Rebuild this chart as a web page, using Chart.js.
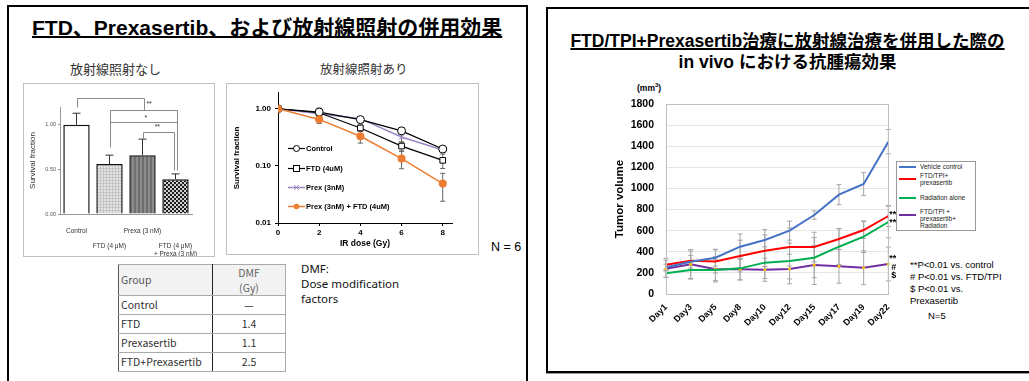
<!DOCTYPE html>
<html>
<head>
<meta charset="utf-8">
<script src="https://cdn.jsdelivr.net/npm/chart.js@4.4.1/dist/chart.umd.min.js"></script>
<style>
  body { margin: 0; width: 1029px; height: 381px; overflow: hidden; background: #fff; position: relative;
         font-family: "Liberation Sans", Arial, "Noto Sans CJK JP", sans-serif; color: #000; }
  .abs { position: absolute; }
  .panel { position: absolute; box-sizing: border-box; border: 2px solid #000; }
  .jp { font-family: "Noto Sans CJK JP", sans-serif; }
  canvas { position: absolute; }
  .box { position: absolute; box-sizing: border-box; border: 1px solid #c0c0c0; }
  .lg { position: absolute; font-size: 7.5px; font-weight: bold; display: flex; align-items: center; white-space: nowrap; }
  .lg svg { margin-right: 1px; }
  table.dmf { position: absolute; border-collapse: collapse; font-family: "Noto Sans CJK JP", sans-serif;
              font-size: 10.5px; color: #333; font-weight: 400; }
  table.dmf td { border: 1px solid #aaa; padding: 0 2px; height: 18px; line-height: 14px; }
  table.dmf td:first-child { border-right: 1px solid #222; border-left: 1px solid #555; }
  table.dmf td:last-child { text-align: center; }
  .tl { position: absolute; font-size: 6.5px; line-height: 7.2px; color: #222; }
  .tl i { position: absolute; left: -21px; width: 17px; height: 2px; }
</style>
</head>
<body>

<div class="panel" style="left:7px;top:5px;width:521px;height:400px"></div>
<div class="panel" style="left:546px;top:7px;width:500px;height:366px;box-shadow:0 1px 0 #999"></div>

<div class="abs" style="left:32px;top:11px;font-size:21px;font-weight:bold;text-decoration:underline;text-decoration-thickness:1.5px;white-space:nowrap">FTD、Prexasertib、および放射線照射の併用効果</div>

<div class="abs jp" style="left:70px;top:59px;font-size:13px;color:#333">放射線照射なし</div>
<div class="abs jp" style="left:320px;top:59px;font-size:12.5px;color:#333">放射線照射あり</div>

<div class="box" style="left:23px;top:83px;width:192px;height:174px"></div>
<canvas id="barChart" width="186" height="172" style="left:28px;top:84px"></canvas>

<div class="box" style="left:226px;top:83px;width:253px;height:172px"></div>
<canvas id="logChart" width="246" height="165" style="left:232px;top:84px"></canvas>

<div class="abs" style="left:491px;top:240px;font-size:12.5px">N = 6</div>

<table class="dmf" style="left:118px;top:264px;width:168px">
  <tr style="background:#f2f2f2"><td style="width:89px;height:30px;color:#555">Group</td><td style="line-height:15px;color:#666">DMF<br>(Gy)</td></tr>
  <tr><td>Control</td><td>—</td></tr>
  <tr><td>FTD</td><td>1.4</td></tr>
  <tr><td>Prexasertib</td><td>1.1</td></tr>
  <tr><td>FTD+Prexasertib</td><td>2.5</td></tr>
</table>

<div class="abs" style="left:301px;top:261px;font-family:'Noto Sans',sans-serif;font-size:11.5px;line-height:15px;color:#111">DMF:<br>Dose modification<br>factors</div>

<div class="abs" style="left:560px;top:31px;width:455px;text-align:center;font-size:17.5px;font-weight:bold;line-height:21px;white-space:nowrap">
  <span style="text-decoration:underline;text-decoration-thickness:1.5px">FTD/TPI+Prexasertib治療に放射線治療を併用した際の</span><br>in vivo における抗腫瘍効果
</div>

<div class="abs" style="left:637px;top:82px;font-size:8.5px;font-weight:bold">(mm<sup style="font-size:6px">3</sup>)</div>
<canvas id="tumorChart" width="283" height="265" style="left:613px;top:95px"></canvas>

<div class="box" style="left:896px;top:161px;width:80px;height:70px;border-color:#999"></div>
<div class="tl" style="left:920px;top:163px"><i style="background:#4472c4;top:3px"></i>Vehicle control</div>
<div class="tl" style="left:920px;top:172px"><i style="background:#ff0000;top:6px"></i>FTD/TPI+<br>prexasertib</div>
<div class="tl" style="left:920px;top:194px"><i style="background:#00b050;top:3px"></i>Radiation alone</div>
<div class="tl" style="left:920px;top:208px"><i style="background:#7030a0;top:6px"></i>FTD/TPI +<br>prexasertib+<br>Radiation</div>

<div class="abs" style="left:910px;top:259px;font-size:9.5px;line-height:12px;white-space:nowrap">**P&lt;0.01 vs. control<br># P&lt;0.01 vs. FTD/TPI<br>$ P&lt;0.01 vs.<br>Prexasertib</div>
<div class="abs" style="left:928px;top:310px;font-size:9.5px">N=5</div>

<div class="lg" style="left:288px;top:144px"><svg width="17" height="9"><line x1="0" y1="4.5" x2="17" y2="4.5" stroke="#000" stroke-width="1.2"/><circle cx="8.5" cy="4.5" r="3" fill="#fff" stroke="#000"/></svg>Control</div>
<div class="lg" style="left:288px;top:164px"><svg width="17" height="9"><line x1="0" y1="4.5" x2="17" y2="4.5" stroke="#000" stroke-width="1.2"/><rect x="5.5" y="1.5" width="6" height="6" fill="#fff" stroke="#000"/></svg>FTD (4uM)</div>
<div class="lg" style="left:288px;top:183px"><svg width="17" height="9"><line x1="0" y1="4.5" x2="17" y2="4.5" stroke="#9a86c6" stroke-width="1.5"/><path d="M6 2 L11 7 M11 2 L6 7" stroke="#9a86c6"/></svg>Prex (3nM)</div>
<div class="lg" style="left:288px;top:202px"><svg width="17" height="9"><line x1="0" y1="4.5" x2="17" y2="4.5" stroke="#ed7d31" stroke-width="1.5"/><circle cx="8.5" cy="4.5" r="2.8" fill="#ed7d31"/></svg>Prex (3nM) + FTD (4uM)</div>

<script>
// ---- 放射線照射なし ----
const barLabels = [['Control'], ['', '', 'FTD (4 μM)'], ['Prexa (3 nM)'], ['', '', 'FTD (4 μM)', '+ Prexa (3 nM)']];
const barValues = [1.00, 0.56, 0.66, 0.39];
const barErrors = [0.13, 0.10, 0.18, 0.06];
const barTicks = [0, 0.5, 1.0];
// significance brackets, in [category index, survival fraction]
const sigPaths = [
  [[0, 1.20], [0, 1.30], [2.05, 1.30], [2.05, 1.17]],
  [[1, 0.75], [1, 1.17], [3.05, 1.17], [3.05, 0.49]],
  [[1, 1.03], [3.05, 1.03]],
  [[2, 0.84], [2, 0.92], [2.95, 0.92], [2.95, 0.49]],
];
const sigMarks = [['**', 2.2, 1.235], ['*', 2.1, 1.08], ['**', 2.45, 0.975]];

// ---- 放射線照射あり ----
const doses = [0, 2, 4, 6, 8];
const ctrlSF = [1.00, 0.875, 0.645, 0.41, 0.197];
const ftdSF = [1.00, 0.85, 0.46, 0.222, 0.125];
const prexSF = [1.00, 0.82, 0.67, 0.32, 0.19];
const comboSF = [1.00, 0.65, 0.33, 0.134, 0.049];
const ctrlErr = [0, 0.15, 0.08, 0.04, 0.02];
const ftdErr = [0, 0.06, 0.06, 0.04, 0.035];
const prexErr = [0, 0.05, 0.05, 0.06, 0.02];
const comboErr = [0, 0.1, 0.08, 0.045, 0.025];
const logTicks = [0.01, 0.1, 1];

// ---- in vivo ----
const days = ['Day1', 'Day3', 'Day5', 'Day8', 'Day10', 'Day12', 'Day15', 'Day17', 'Day19', 'Day22'];
const vehicle = [253, 306, 344, 448, 512, 600, 748, 941, 1042, 1443];
const ftdPrex = [278, 316, 309, 360, 410, 445, 445, 521, 606, 739];
const radiation = [196, 227, 227, 243, 297, 313, 344, 448, 543, 682];
const triple = [240, 281, 234, 234, 230, 237, 275, 262, 249, 284];
const vehicleErr = [30, 60, 80, 120, 100, 90, 40, 95, 110, 115];
const ftdPrexErr = [60, 90, 110, 150, 150, 180, 140, 100, 80, 100];
const radiationErr = [40, 80, 100, 110, 150, 170, 190, 170, 150, 150];
const tripleErr = [80, 140, 120, 100, 110, 140, 185, 160, 160, 160];

Chart.defaults.animation = false;
Chart.defaults.font.family = '"Liberation Sans", Arial, sans-serif';
Chart.defaults.plugins.legend.display = false;
Chart.defaults.plugins.tooltip.enabled = false;

function pattern(size, draw) {
  const c = document.createElement('canvas');
  c.width = c.height = size;
  const g = c.getContext('2d');
  draw(g, size);
  return g.createPattern(c, 'repeat');
}
const ftdFill = pattern(3, (g, s) => { g.fillStyle = '#e4e4e4'; g.fillRect(0, 0, s, s); g.fillStyle = '#c4c4c4'; g.fillRect(0, 0, s, 1); g.fillRect(0, 0, 1, s); });
const prexFill = pattern(4, (g, s) => { g.fillStyle = '#6e6e6e'; g.fillRect(0, 0, s, s); g.fillStyle = '#8c8c8c'; g.fillRect(0, 0, 2, s); });
const comboFill = pattern(4, (g, s) => { g.fillStyle = '#cfcfcf'; g.fillRect(0, 0, s, s); g.fillStyle = '#1e1e1e'; g.fillRect(0, 0, 2, 2); g.fillRect(2, 2, 2, 2); });

const errorBars = {
  id: 'errorBars',
  beforeDatasetsDraw(chart, args, opts) {
    const ctx = chart.ctx, y = chart.scales.y;
    ctx.save();
    ctx.strokeStyle = opts.color;
    ctx.lineWidth = opts.width || 1;
    chart.data.datasets.forEach((ds, i) => {
      if (!ds.errors) return;
      chart.getDatasetMeta(i).data.forEach((el, j) => {
        const e = ds.errors[j];
        if (!e) return;
        const raw = ds.data[j];
        const v = typeof raw === 'object' ? raw.y : raw;
        const hi = y.getPixelForValue(v + e);
        const lo = y.getPixelForValue(opts.upperOnly ? v : v - e);
        ctx.beginPath();
        ctx.moveTo(el.x, lo); ctx.lineTo(el.x, hi);
        ctx.moveTo(el.x - opts.cap, hi); ctx.lineTo(el.x + opts.cap, hi);
        if (!opts.upperOnly) { ctx.moveTo(el.x - opts.cap, lo); ctx.lineTo(el.x + opts.cap, lo); }
        ctx.stroke();
      });
    });
    ctx.restore();
  }
};

const brackets = {
  id: 'brackets',
  afterDraw(chart, args, opts) {
    const { ctx, scales: { x, y } } = chart;
    ctx.save();
    ctx.strokeStyle = '#8a8a8a';
    ctx.lineWidth = 1;
    opts.paths.forEach(p => {
      ctx.beginPath();
      p.forEach(([i, v], k) => {
        const px = Math.round(x.getPixelForValue(i)) + 0.5, py = Math.round(y.getPixelForValue(v)) + 0.5;
        k ? ctx.lineTo(px, py) : ctx.moveTo(px, py);
      });
      ctx.stroke();
    });
    ctx.fillStyle = '#333';
    ctx.font = '7px "Liberation Sans"';
    ctx.textAlign = 'center';
    ctx.textBaseline = 'middle';
    opts.marks.forEach(([t, i, v]) => ctx.fillText(t, x.getPixelForValue(i), y.getPixelForValue(v)));
    ctx.restore();
  }
};

const plotFrame = {
  id: 'plotFrame',
  afterDraw(chart, args, opts) {
    const { ctx, chartArea: a } = chart;
    ctx.save();
    ctx.strokeStyle = opts.color;
    ctx.lineWidth = 1;
    ctx.strokeRect(Math.round(a.left) + 0.5, Math.round(a.top) + 0.5, Math.round(a.right - a.left), Math.round(a.bottom - a.top));
    ctx.restore();
  }
};

const endMarks = {
  id: 'endMarks',
  afterDatasetsDraw(chart) {
    const ctx = chart.ctx;
    ctx.save();
    ctx.fillStyle = '#000';
    ctx.font = 'bold 9px "Liberation Sans"';
    ctx.textAlign = 'left';
    ctx.textBaseline = 'middle';
    chart.data.datasets.forEach((ds, i) => {
      if (!ds.marks) return;
      const pts = chart.getDatasetMeta(i).data;
      const last = pts[pts.length - 1];
      const n = ds.marks.length;
      ds.marks.forEach((t, k) => ctx.fillText(t, last.x + 1 + (t.length === 1 ? 2 : 0), last.y + (k - (n - 1) / 2) * 8.5 + ds.markShift));
    });
    ctx.restore();
  }
};

new Chart(document.getElementById('barChart'), {
  type: 'bar',
  data: {
    labels: barLabels,
    datasets: [{
      data: barValues, errors: barErrors,
      backgroundColor: ['#ffffff', ftdFill, prexFill, comboFill],
      borderColor: '#111', borderWidth: 1.5, barPercentage: 0.8, categoryPercentage: 1
    }]
  },
  options: {
    responsive: false,
    layout: { padding: { top: 23, right: 22, left: 0, bottom: 0 } },
    scales: {
      x: {
        grid: { display: false }, border: { color: '#999' },
        ticks: { color: '#333', font: { size: 6.5 }, padding: 5, maxRotation: 0, autoSkip: false },
        afterFit: s => { s.height = 42; }
      },
      y: {
        min: 0, max: 1.2,
        afterBuildTicks: s => { s.ticks = barTicks.map(v => ({ value: v })); },
        ticks: { callback: v => v.toFixed(2), font: { size: 5.5 }, color: '#555', padding: 2 },
        grid: { drawOnChartArea: false, tickLength: 2, color: '#999' }, border: { color: '#999' },
        title: { display: true, text: 'Survival fraction', font: { size: 8 }, color: '#333', padding: 0 },
        afterFit: s => { s.width = 32; }
      }
    },
    plugins: {
      errorBars: { color: '#333', upperOnly: true, cap: 4 },
      brackets: { paths: sigPaths, marks: sigMarks }
    }
  },
  plugins: [errorBars, brackets]
});

const pts = arr => doses.map((d, i) => ({ x: d, y: arr[i] }));
new Chart(document.getElementById('logChart'), {
  type: 'line',
  data: {
    datasets: [
      { data: pts(ctrlSF), errors: ctrlErr, borderColor: '#000', borderWidth: 1.2, pointStyle: 'circle', pointRadius: 4, pointBackgroundColor: '#fff', pointBorderColor: '#000', pointBorderWidth: 1, order: 1 },
      { data: pts(ftdSF), errors: ftdErr, borderColor: '#000', borderWidth: 1.2, pointStyle: 'rect', pointRadius: 4, pointBackgroundColor: '#fff', pointBorderColor: '#000', pointBorderWidth: 1, order: 1 },
      { data: pts(prexSF), errors: prexErr, borderColor: '#9a86c6', borderWidth: 1.5, pointStyle: 'crossRot', pointRadius: 3.5, pointBorderColor: '#9a86c6', pointBorderWidth: 1, order: 1 },
      { data: pts(comboSF), errors: comboErr, borderColor: '#ed7d31', borderWidth: 1.5, pointStyle: 'circle', pointRadius: 3.3, pointBackgroundColor: '#ed7d31', pointBorderColor: '#ed7d31', order: 0 }
    ]
  },
  options: {
    responsive: false,
    layout: { padding: { top: 4, right: 26, left: 0, bottom: 0 } },
    scales: {
      x: {
        type: 'linear', min: 0, max: 8.45,
        ticks: { stepSize: 2, includeBounds: false, font: { size: 8, weight: 'bold' }, color: '#000', padding: 2 },
        grid: { drawOnChartArea: false, tickLength: 3, color: '#000' }, border: { color: '#000' },
        title: { display: true, text: 'IR dose (Gy)', font: { size: 8.5, weight: 'bold' }, color: '#000', padding: 0 },
        afterFit: s => { s.height = 26; }
      },
      y: {
        type: 'logarithmic', min: 0.01, max: 1.9,
        afterBuildTicks: s => { s.ticks = logTicks.map(v => ({ value: v })); },
        ticks: { callback: v => v.toFixed(2), font: { size: 8, weight: 'bold' }, color: '#000', padding: 4 },
        grid: { drawOnChartArea: false, tickLength: 3, color: '#000' }, border: { color: '#000' },
        title: { display: true, text: 'Survival fraction', font: { size: 8, weight: 'bold' }, color: '#000', padding: 0 },
        afterFit: s => { s.width = 46; }
      }
    },
    plugins: { errorBars: { color: '#666', cap: 2.5 } }
  },
  plugins: [errorBars]
});

new Chart(document.getElementById('tumorChart'), {
  type: 'line',
  data: {
    labels: days,
    datasets: [
      { label: 'Vehicle control', data: vehicle, errors: vehicleErr, borderColor: '#4472c4', borderWidth: 2, pointRadius: 0 },
      { label: 'FTD/TPI+prexasertib', data: ftdPrex, errors: ftdPrexErr, borderColor: '#ff0000', borderWidth: 2, pointRadius: 0, marks: ['**'], markShift: -1 },
      { label: 'Radiation alone', data: radiation, errors: radiationErr, borderColor: '#00b050', borderWidth: 2, pointRadius: 0, marks: ['**'], markShift: 1 },
      { label: 'FTD/TPI + prexasertib+ Radiation', data: triple, errors: tripleErr, borderColor: '#7030a0', borderWidth: 2, pointRadius: 1.5, pointBackgroundColor: '#ffc000', pointBorderWidth: 0, marks: ['**', '#', '$'], markShift: 3 }
    ]
  },
  options: {
    responsive: false,
    layout: { padding: { top: 9, right: 5, left: 0, bottom: 0 } },
    scales: {
      x: {
        grid: { display: false }, border: { color: '#bfbfbf' },
        ticks: { font: { size: 9, weight: 'bold' }, color: '#000', minRotation: 45, maxRotation: 45, autoSkip: false, padding: 0 },
        afterFit: s => { s.height = 66; }
      },
      y: {
        min: 0, max: 1800,
        ticks: { stepSize: 200, callback: v => String(v), font: { size: 10.5, weight: 'bold' }, color: '#000', padding: 1 },
        grid: { color: '#e6e6e6', drawTicks: true, tickLength: 11, tickColor: 'rgba(0,0,0,0)' }, border: { color: '#bfbfbf' },
        title: { display: true, text: 'Tumor volume', font: { size: 11.5, weight: 'bold' }, color: '#000', padding: 0 },
        afterFit: s => { s.width = 53; }
      }
    },
    plugins: { errorBars: { color: '#a6a6a6', cap: 2.5 }, plotFrame: { color: '#bfbfbf' } }
  },
  plugins: [errorBars, plotFrame, endMarks]
});
</script>
</body>
</html>
